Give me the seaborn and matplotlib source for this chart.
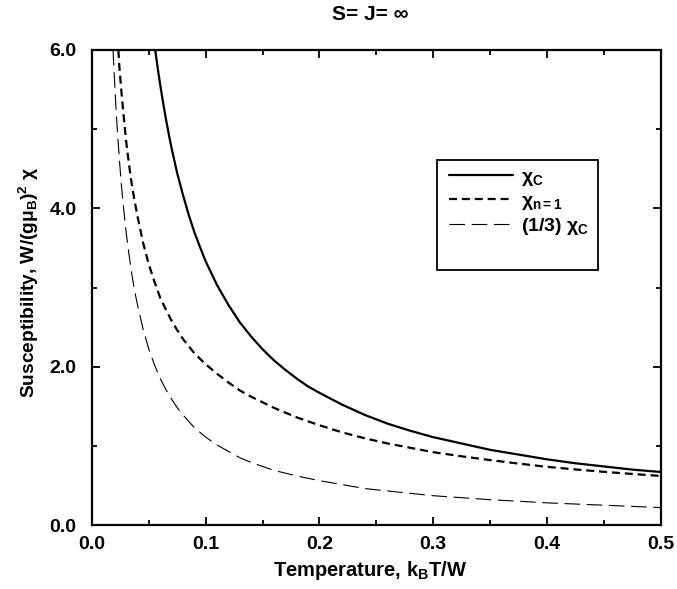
import numpy as np
import pandas as pd
import matplotlib
matplotlib.use("Agg")
import matplotlib.pyplot as plt
from matplotlib.patches import Rectangle
from matplotlib.lines import Line2D
import seaborn as sns

# Datos: temperatura k_B T / W y susceptibilidad
t_c = [0.0556, 0.058, 0.06, 0.062, 0.065, 0.068, 0.07, 0.075, 0.08, 0.085,
       0.09, 0.095, 0.10, 0.11, 0.12, 0.13, 0.14, 0.15, 0.16, 0.17, 0.18,
       0.19, 0.20, 0.22, 0.24, 0.26, 0.28, 0.30, 0.325, 0.35, 0.375, 0.40,
       0.425, 0.45, 0.475, 0.50]
chi_c = [6.00, 5.75, 5.56, 5.38, 5.13, 4.90, 4.76, 4.44, 4.17, 3.92,
         3.70, 3.51, 3.33, 3.03, 2.78, 2.56, 2.38, 2.22, 2.08, 1.96, 1.85,
         1.75, 1.67, 1.52, 1.39, 1.28, 1.19, 1.11, 1.03, 0.95, 0.89, 0.83,
         0.78, 0.74, 0.70, 0.67]

t_n1 = [0.0232, 0.024, 0.026, 0.028, 0.03, 0.0325, 0.035, 0.0375, 0.04, 0.045,
        0.05, 0.055, 0.06, 0.065, 0.07, 0.075, 0.08, 0.09, 0.10, 0.11, 0.12,
        0.13, 0.14, 0.15, 0.16, 0.17, 0.18, 0.19, 0.20, 0.22, 0.24, 0.26,
        0.28, 0.30, 0.325, 0.35, 0.375, 0.40, 0.425, 0.45, 0.475, 0.50]
chi_n1 = [6.00, 5.80, 5.45, 5.14, 4.85, 4.56, 4.30, 4.09, 3.90, 3.56,
          3.29, 3.07, 2.87, 2.72, 2.58, 2.46, 2.35, 2.17, 2.03, 1.91, 1.80,
          1.70, 1.62, 1.55, 1.48, 1.42, 1.36, 1.31, 1.26, 1.17, 1.095, 1.03,
          0.975, 0.92, 0.868, 0.82, 0.776, 0.735, 0.702, 0.672, 0.645, 0.62]

t_tercio = [0.0185, 0.019, 0.02, 0.021, 0.022, 0.024, 0.026, 0.028, 0.03, 0.0325,
            0.035, 0.0375, 0.04, 0.045, 0.05, 0.055, 0.06, 0.065, 0.07, 0.075,
            0.08, 0.09, 0.10, 0.11, 0.12, 0.13, 0.14, 0.15, 0.16, 0.18, 0.20,
            0.22, 0.24, 0.26, 0.28, 0.30, 0.35, 0.40, 0.45, 0.50]
chi_tercio = [6.00, 5.85, 5.56, 5.29, 5.05, 4.63, 4.27, 3.97, 3.70, 3.42,
              3.17, 2.96, 2.78, 2.47, 2.22, 2.02, 1.85, 1.71, 1.59, 1.48,
              1.39, 1.23, 1.11, 1.01, 0.93, 0.85, 0.79, 0.74, 0.69, 0.62, 0.56,
              0.51, 0.46, 0.43, 0.40, 0.37, 0.32, 0.28, 0.25, 0.22]

etiquetas = [r"$\chi_\mathbf{C}$", r"$\chi_\mathbf{n=1}$", r"(1/3) $\chi_\mathbf{C}$"]
x_ticks = [0.0, 0.1, 0.2, 0.3, 0.4, 0.5]
y_ticks = [0.0, 2.0, 4.0, 6.0]

sns.set_style("ticks")
plt.rcParams["font.family"] = ["Liberation Sans", "DejaVu Sans"]
plt.rcParams["font.weight"] = "bold"
plt.rcParams["mathtext.fontset"] = "custom"
plt.rcParams["mathtext.rm"] = "Liberation Sans"
plt.rcParams["mathtext.it"] = "Liberation Sans"
plt.rcParams["mathtext.bf"] = "Liberation Sans:bold"
# todo en negro, sin los grises de seaborn
for clave in ["text.color", "axes.labelcolor", "axes.edgecolor",
              "xtick.color", "ytick.color"]:
    plt.rcParams[clave] = "black"

fig = plt.figure(figsize=(6.77, 5.89), dpi=100)
ax = fig.add_axes([92 / 677, 1 - 525 / 589, 568.5 / 677, 475 / 589])

df_c = pd.DataFrame({"T": t_c, "chi": chi_c})
df_n1 = pd.DataFrame({"T": t_n1, "chi": chi_n1})
df_t = pd.DataFrame({"T": t_tercio, "chi": chi_tercio})

# Curvas
sns.lineplot(data=df_c, x="T", y="chi", ax=ax, color="black", linewidth=1.6,
             errorbar=None)
sns.lineplot(data=df_n1, x="T", y="chi", ax=ax, color="black", linewidth=1.6,
             linestyle=(0, (3.6, 2.2)), errorbar=None)
sns.lineplot(data=df_t, x="T", y="chi", ax=ax, color="black", linewidth=0.8,
             linestyle=(0, (14, 6)), errorbar=None)

ax.set_xlim(0, 0.5)
ax.set_ylim(0, 6)
ax.set_xticks(x_ticks)
ax.set_yticks(y_ticks)
ax.set_xticklabels([f"{v:.1f}" for v in x_ticks], fontsize=14, fontweight="bold")
ax.set_yticklabels([f"{v:.1f}" for v in y_ticks], fontsize=14, fontweight="bold")
ax.set_xticks(np.arange(0.05, 0.5, 0.1), minor=True)
ax.set_yticks([1.0, 3.0, 5.0], minor=True)
ax.tick_params(which="both", direction="in", top=True, right=True, width=1.3)
ax.tick_params(which="major", length=6, pad=8)
ax.tick_params(which="minor", length=3.5)
ax.tick_params(axis="y", which="major", pad=11)
for s in ax.spines.values():
    s.set_linewidth(1.6)

ax.set_xlabel(r"Temperature, k$_\mathbf{B}$T/W", fontsize=14.5, fontweight="bold")
ax.set_ylabel(r"Susceptibility, W/(g$\mathrm{\mu}_\mathbf{B}$)$^\mathbf{2}$ $\chi$",
              fontsize=13.8, fontweight="bold")
ax.xaxis.set_label_coords((370 - 92) / 568.5, (525 - 571) / 475)
ax.xaxis.label.set_va("center")
ax.yaxis.set_label_coords((29 - 92) / 568.5, (525 - 282) / 475)
ax.yaxis.label.set_va("center")

fig.text(370 / 677, 1 - 15 / 589, "S= J= ∞", ha="center", va="center",
         fontsize=15, fontweight="bold")

# Leyenda con marco propio
manejadores = [
    Line2D([], [], color="black", linewidth=1.6),
    Line2D([], [], color="black", linewidth=1.6, linestyle=(0, (3.6, 2.2))),
    Line2D([], [], color="black", linewidth=0.8, linestyle=(0, (14, 6))),
]
ax.add_patch(Rectangle((0.607, 0.537), 0.283, 0.231, transform=ax.transAxes,
                       fill=False, edgecolor="black", linewidth=1.3, zorder=5))
ax.legend(manejadores, etiquetas, loc="upper left", bbox_to_anchor=(0.601, 0.783),
          frameon=False, fontsize=14, handlelength=3.3, handletextpad=0.4,
          labelspacing=0.2, borderpad=0.3)

fig.savefig("out.png", dpi=100)
